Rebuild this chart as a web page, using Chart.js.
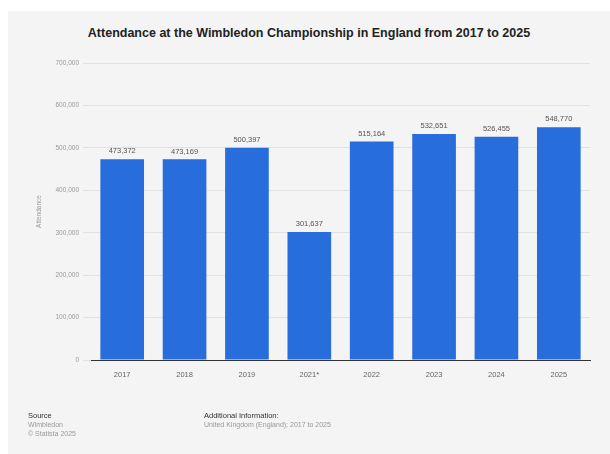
<!DOCTYPE html>
<html>
<head>
<meta charset="utf-8">
<script src="https://cdn.jsdelivr.net/npm/chart.js@4.4.1/dist/chart.umd.min.js"></script>
<style>
  html, body { margin: 0; padding: 0; background: #ffffff; }
  #wrap { position: relative; width: 610px; height: 454px; overflow: hidden; }
  #panel { position: absolute; left: 8px; top: 11px; width: 602px; height: 443px; background: #f4f4f4; }
  #title { position: absolute; left: 0; width: 618px; top: 26px; text-align: center;
           font: bold 12.5px "Liberation Sans", Arial, sans-serif; color: #222; }
  #cv { position: absolute; left: 0; top: 0; }
  .foot { position: absolute; font: 7px "Liberation Sans", Arial, sans-serif; color: #999; line-height: 9px; }
  .foot b { font-weight: normal; color: #333; font-size: 7.5px; }
</style>
</head>
<body>
<div id="wrap">
  <div id="panel"></div>
  <div id="title">Attendance at the Wimbledon Championship in England from 2017 to 2025</div>
  <canvas id="cv" width="610" height="454"></canvas>
  <div class="foot" style="left:28px; top:411px;"><b>Source</b><br>Wimbledon<br>© Statista 2025</div>
  <div class="foot" style="left:204px; top:411px;"><b>Additional Information:</b><br>United Kingdom (England); 2017 to 2025</div>
</div>
<script>
const categories = ["2017", "2018", "2019", "2021*", "2022", "2023", "2024", "2025"];
const attendance = [473372, 473169, 500397, 301637, 515164, 532651, 526455, 548770];
const yTickValues = [0, 100000, 200000, 300000, 400000, 500000, 600000, 700000];
const axisTitle = "Attendance";

const fmt = v => v.toLocaleString('en-US');

const valueLabels = {
  id: 'valueLabels',
  afterDatasetsDraw(chart) {
    const ctx = chart.ctx;
    const meta = chart.getDatasetMeta(0);
    ctx.save();
    ctx.font = '7.5px "Liberation Sans", Arial, sans-serif';
    ctx.fillStyle = '#555';
    ctx.textAlign = 'center';
    ctx.textBaseline = 'bottom';
    meta.data.forEach((bar, i) => {
      ctx.fillText(fmt(chart.data.datasets[0].data[i]), bar.x, bar.y - 4);
    });
    ctx.restore();
  }
};

new Chart(document.getElementById('cv'), {
  type: 'bar',
  data: {
    labels: categories,
    datasets: [{
      data: attendance,
      backgroundColor: '#276ddb',
      barPercentage: 0.7,
      categoryPercentage: 1.0
    }]
  },
  options: {
    responsive: false,
    animation: false,
    devicePixelRatio: 1,
    layout: { padding: { left: 33, right: 20, top: 63, bottom: 64 } },
    plugins: { legend: { display: false }, tooltip: { enabled: false }, title: { display: false } },
    scales: {
      x: {
        grid: { display: false, drawTicks: false },
        border: { display: true, color: '#333', width: 1 },
        ticks: { color: '#666', font: { family: '"Liberation Sans", Arial, sans-serif', size: 7.5 }, padding: 10 },
        afterFit(s) { s.height = 30; }
      },
      y: {
        min: 0, max: 700000,
        afterBuildTicks(s) { s.ticks = yTickValues.map(v => ({ value: v })); },
        grid: { color: '#dcdcdc', lineWidth: 0.8, tickLength: 8 },
        border: { display: false },
        ticks: { color: '#999', font: { family: '"Liberation Sans", Arial, sans-serif', size: 6.5 }, padding: 4,
                 callback: v => fmt(v) },
        title: { display: true, text: axisTitle, color: '#999',
                 font: { family: '"Liberation Sans", Arial, sans-serif', size: 6.5 }, padding: 2 },
        afterFit(s) { s.width = 58; }
      }
    }
  },
  plugins: [valueLabels]
});
</script>
</body>
</html>
